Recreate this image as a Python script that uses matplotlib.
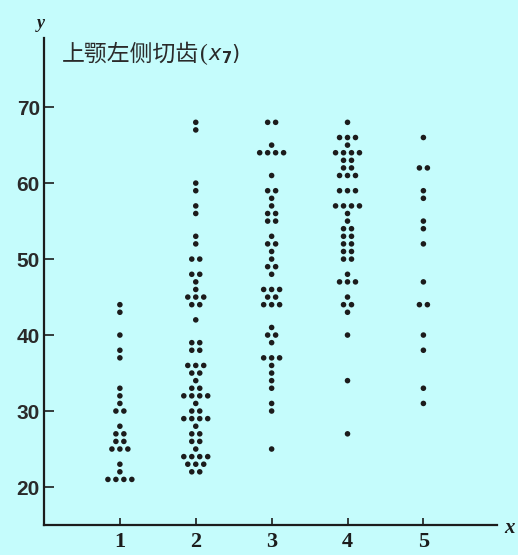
import numpy as np
import matplotlib
matplotlib.use('Agg')
import matplotlib.pyplot as plt

# values, one list per group on the x axis
groups = [1, 2, 3, 4, 5]
group1 = [44, 43, 40, 38, 37, 33, 32, 31, 30, 30, 28, 27, 27, 26, 26,
          25, 25, 25, 23, 22, 21, 21, 21, 21]
group2 = [68, 67, 60, 59, 57, 56, 53, 52, 50, 50, 48, 48, 47, 46, 45, 45, 45,
          44, 44, 42, 39, 39, 38, 38, 36, 36, 36, 35, 35, 34, 33, 33, 32, 32,
          32, 32, 31, 30, 30, 29, 29, 29, 29, 28, 27, 27, 26, 26, 25, 24, 24,
          24, 24, 23, 23, 23, 22, 22]
group3 = [68, 68, 65, 64, 64, 64, 64, 61, 59, 59, 58, 57, 56, 56, 55, 55, 53,
          52, 52, 51, 50, 49, 49, 48, 46, 46, 46, 45, 45, 44, 44, 44, 41, 40,
          40, 39, 37, 37, 37, 36, 35, 34, 33, 31, 30, 25]
group4 = [68, 66, 66, 66, 65, 64, 64, 64, 64, 63, 63, 62, 62, 61, 61, 61, 59,
          59, 59, 57, 57, 57, 57, 56, 55, 54, 54, 53, 53, 52, 52, 51, 51, 50,
          50, 48, 47, 47, 47, 45, 44, 44, 43, 40, 34, 27]
group5 = [66, 62, 62, 59, 58, 55, 54, 52, 47, 44, 44, 40, 38, 33, 31]
all_groups = [group1, group2, group3, group4, group5]

y_ticks = [20, 30, 40, 50, 60, 70]
title_text = '上颚左侧切齿'

bg = '#c5fcfc'
ink = '#1c1c1c'

fig = plt.figure(figsize=(5.18, 5.55), dpi=100, facecolor=bg)
ax = fig.add_axes([44 / 518, 30 / 555, 453 / 518, 487 / 555])
ax.set_facecolor(bg)

step = 0.105
for g, vals in zip(groups, all_groups):
    xs, ys = [], []
    for v in sorted(set(vals)):
        n = vals.count(v)
        offs = (np.arange(n) - (n - 1) / 2) * step
        xs.extend(g + offs)
        ys.extend([v] * n)
    ax.scatter(xs, ys, s=16, color=ink, edgecolors='none', zorder=3)

ax.set_xlim(0, 5.97)
ax.set_ylim(15, 79.1)
for side in ['top', 'right']:
    ax.spines[side].set_visible(False)
for side in ['left', 'bottom']:
    ax.spines[side].set_linewidth(1.6)
    ax.spines[side].set_color(ink)

ax.set_xticks(groups)
ax.set_xticklabels([str(g) for g in groups], family='Liberation Serif',
                   fontsize=16, fontweight='bold', color=ink)
ax.set_yticks(y_ticks)
ax.set_yticklabels([str(t) for t in y_ticks], family='Liberation Sans',
                   fontsize=15, fontweight='bold', color='#2a2a2a')
ax.tick_params(axis='x', direction='in', length=5, width=1.2, color=ink, pad=5)
ax.tick_params(axis='y', direction='in', length=7, width=1.2, color=ink, pad=3)

fig.text(41 / 518, 1 - 23 / 555, 'y', family='Liberation Serif',
         style='italic', fontsize=13, fontweight='bold', color=ink,
         ha='center', va='center')
fig.text(510 / 518, 1 - 528 / 555, 'x', family='Liberation Serif',
         style='italic', fontsize=15, fontweight='bold', color=ink,
         ha='center', va='center')
t = fig.text(62 / 518, 1 - 54 / 555, title_text,
             family=['Noto Sans CJK SC', 'DejaVu Sans'],
             fontsize=16.5, fontweight='medium', color='#2a2a2a',
             ha='left', va='center')
fig.canvas.draw()
bb = t.get_window_extent()
fig.text(bb.x1 / 518 + 0.002, 1 - 54 / 555, '(', family='Liberation Serif',
         fontsize=17, color='#2a2a2a', ha='left', va='center')
fig.text(bb.x1 / 518 + 0.016, 1 - 54 / 555, r'$\mathbf{\mathit{x}}_{\mathbf{7}}$)',
         fontsize=15, color='#2a2a2a', ha='left', va='center')

fig.savefig('out.png', dpi=100, facecolor=bg)
